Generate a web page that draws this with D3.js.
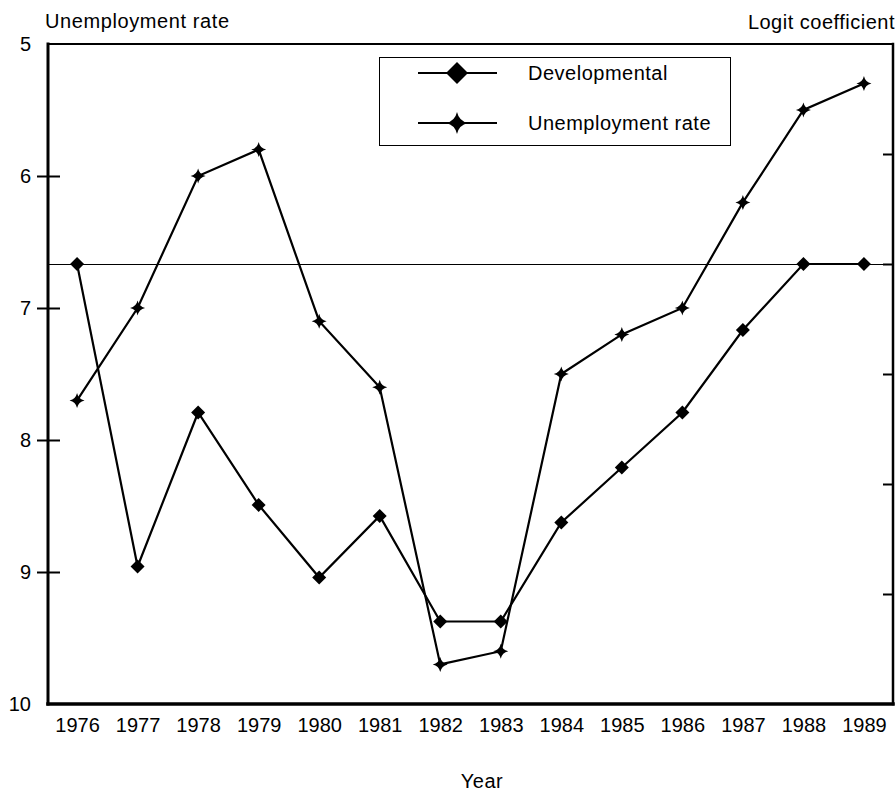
<!DOCTYPE html>
<html>
<head>
<meta charset="utf-8">
<script src="https://cdn.jsdelivr.net/npm/d3@7"></script>
<style>
  body { margin: 0; background: #fff; }
  svg text { font-family: "Liberation Sans", Arial, sans-serif; fill: #000; }
</style>
</head>
<body>
<svg class="chart" width="896" height="791"></svg>
<script>
// ------------------------------------------------------------
// unemployment rate vs developmental logit coefficient, 1976-1989
// ------------------------------------------------------------
const years = [1976, 1977, 1978, 1979, 1980, 1981, 1982, 1983, 1984, 1985, 1986, 1987, 1988, 1989]
const unemployment = [7.7, 7.0, 6.0, 5.8, 7.1, 7.6, 9.7, 9.6, 7.5, 7.2, 7.0, 6.2, 5.5, 5.3]
// logit coefficients (values estimated)
const developmental = [0.0, -0.275, -0.135, -0.219, -0.285, -0.229, -0.325, -0.325, -0.235, -0.185, -0.135, -0.06, 0.0, 0.0]
const leftTicks = [5, 6, 7, 8, 9, 10]
const rightTicks = [0.1, 0, -0.1, -0.2, -0.3]
const legendLabels = ['Developmental', 'Unemployment rate']

const width = 896
const height = 791
const plot = ({top: 44, right: 893, bottom: 704, left: 48})

const svg = d3.select('svg.chart')

// scales
const xScale = d3.scalePoint()
  .domain(years)
  .range([plot.left, plot.right])
  .padding(0.48)

const yLeft = d3.scaleLinear()
  .domain([5, 10])
  .range([plot.top, plot.bottom])

const yRight = d3.scaleLinear()
  .domain([0.2, -0.4])
  .range([plot.top, plot.bottom])

// marker shapes
const diamond = s => `M0,${-s}L${s},0L0,${s}L${-s},0Z`
function star(r) {
  const a = r * 0.18
  return `M0,${-r}Q${a},${-a} ${r},0Q${a},${a} 0,${r}Q${-a},${a} ${-r},0Q${-a},${-a} 0,${-r}Z`
}

// zero line of the logit axis
svg.append('line')
  .attr('x1', plot.left).attr('x2', plot.right)
  .attr('y1', yRight(0) + 0.5).attr('y2', yRight(0) + 0.5)
  .attr('stroke', '#000').attr('stroke-width', 1)

// left axis labels
const leftLabels = svg.append('g')
  .attr('transform', `translate(${plot.left}, 0)`)
  .call(d3.axisLeft(yLeft).tickValues(leftTicks).tickSize(0).tickPadding(17).tickFormat(d3.format('d')))
leftLabels.select('.domain').remove()
leftLabels.selectAll('text').attr('font-size', 20).style('font-family', '"Liberation Sans", Arial, sans-serif')

// left cross ticks (outside + inside)
const innerTicks = leftTicks.slice(1, -1)
svg.append('g')
  .attr('transform', `translate(${plot.left}, 0)`)
  .call(d3.axisLeft(yLeft).tickValues(innerTicks).tickSize(11).tickFormat(''))
  .call(g => g.select('.domain').remove())
  .selectAll('line').attr('stroke-width', 2)
svg.append('g')
  .attr('transform', `translate(${plot.left}, 0)`)
  .call(d3.axisLeft(yLeft).tickValues(innerTicks).tickSize(-12).tickFormat(''))
  .call(g => g.select('.domain').remove())
  .selectAll('line').attr('stroke-width', 2)

// right axis ticks, no labels
svg.append('g')
  .attr('transform', `translate(${plot.right}, 0)`)
  .call(d3.axisRight(yRight).tickValues(rightTicks).tickSize(-10).tickFormat(''))
  .call(g => g.select('.domain').remove())
  .selectAll('line').attr('stroke-width', 2)

// bottom axis labels
const xAxisGroup = svg.append('g')
  .attr('transform', `translate(0, ${plot.bottom})`)
  .call(d3.axisBottom(xScale).tickSize(0).tickPadding(14))
xAxisGroup.select('.domain').remove()
xAxisGroup.selectAll('text').attr('font-size', 20).style('font-family', '"Liberation Sans", Arial, sans-serif')

// frame
const frame = [
  [plot.left, plot.top, plot.right, plot.top, 2],
  [plot.right, plot.top, plot.right, plot.bottom, 2.5],
  [plot.left, plot.bottom, plot.right, plot.bottom, 3.5],
  [plot.left, plot.top, plot.left, plot.bottom, 3]
]
svg.append('g').selectAll('line')
  .data(frame)
  .join('line')
  .attr('x1', d => d[0]).attr('y1', d => d[1])
  .attr('x2', d => d[2]).attr('y2', d => d[3])
  .attr('stroke', '#000')
  .attr('stroke-width', d => d[4])
  .attr('stroke-linecap', 'square')

// series
const devData = years.map((y, i) => ({year: y, v: developmental[i]}))
const unData = years.map((y, i) => ({year: y, v: unemployment[i]}))

svg.append('path')
  .datum(devData)
  .attr('fill', 'none').attr('stroke', '#000').attr('stroke-width', 2.2)
  .attr('d', d3.line().x(d => xScale(d.year)).y(d => yRight(d.v)))

svg.append('path')
  .datum(unData)
  .attr('fill', 'none').attr('stroke', '#000').attr('stroke-width', 2.2)
  .attr('d', d3.line().x(d => xScale(d.year)).y(d => yLeft(d.v)))

svg.append('g').selectAll('path')
  .data(devData)
  .join('path')
  .attr('transform', d => `translate(${xScale(d.year)}, ${yRight(d.v)})`)
  .attr('d', diamond(7))
  .attr('fill', '#000')

svg.append('g').selectAll('path')
  .data(unData)
  .join('path')
  .attr('transform', d => `translate(${xScale(d.year)}, ${yLeft(d.v)})`)
  .attr('d', star(7.5))
  .attr('fill', '#000')

// legend
const legend = svg.append('g')
legend.append('rect')
  .attr('x', 379.5).attr('y', 57.5).attr('width', 351).attr('height', 88)
  .attr('fill', '#fff').attr('stroke', '#000').attr('stroke-width', 1)

const rows = legend.selectAll('g.row')
  .data(legendLabels)
  .join('g')
  .attr('class', 'row')
  .attr('transform', (d, i) => `translate(0, ${73 + i * 50})`)

rows.append('line')
  .attr('x1', 418).attr('x2', 497)
  .attr('stroke', '#000').attr('stroke-width', 2)
rows.append('path')
  .attr('transform', 'translate(457, 0)')
  .attr('d', (d, i) => i === 0 ? diamond(11) : star(11))
  .attr('fill', '#000')
rows.append('text')
  .attr('x', 528).attr('y', 7)
  .attr('font-size', 20).attr('letter-spacing', 0.5)
  .text(d => d)

// axis titles
svg.append('text')
  .attr('x', 45).attr('y', 28)
  .attr('font-size', 20).attr('letter-spacing', 0.6)
  .text('Unemployment rate')

svg.append('text')
  .attr('x', 895).attr('y', 29)
  .attr('text-anchor', 'end')
  .attr('font-size', 20).attr('letter-spacing', 0.5)
  .text('Logit coefficient')

svg.append('text')
  .attr('x', 482).attr('y', 788)
  .attr('text-anchor', 'middle')
  .attr('font-size', 20).attr('letter-spacing', 0.5)
  .text('Year')
</script>
</body>
</html>
